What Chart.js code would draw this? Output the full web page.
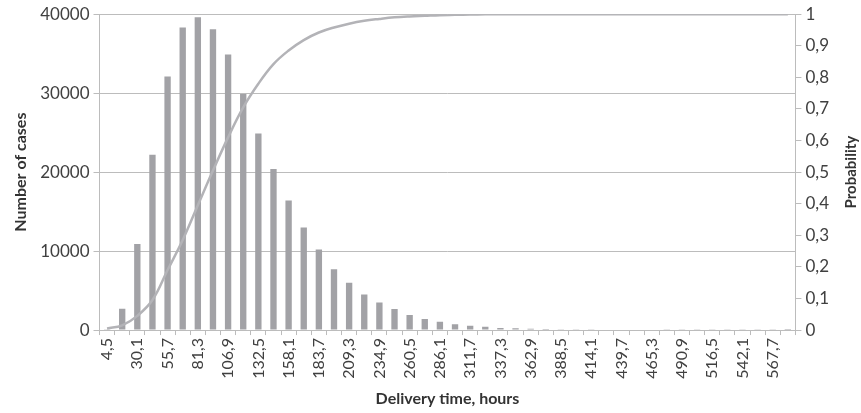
<!DOCTYPE html>
<html>
<head>
<meta charset="utf-8">
<script src="https://cdn.jsdelivr.net/npm/chart.js@4"></script>
<style>
  html, body { margin: 0; padding: 0; background: #fff; }
</style>
</head>
<body>
<canvas id="chart-1" width="861" height="413"></canvas>
<script>
const categories = ['4,5', '17,3', '30,1', '42,9', '55,7', '68,5', '81,3', '94,1', '106,9', '119,7',
  '132,5', '145,3', '158,1', '170,9', '183,7', '196,5', '209,3', '222,1', '234,9', '247,7',
  '260,5', '273,3', '286,1', '298,9', '311,7', '324,5', '337,3', '350,1', '362,9', '375,7',
  '388,5', '401,3', '414,1', '426,9', '439,7', '452,5', '465,3', '478,1', '490,9', '503,7',
  '516,5', '529,3', '542,1', '554,9', '567,7', '580,5'];

const cases = [100, 2700, 10900, 22200, 32100, 38300, 39600, 38100, 34900, 29900,
  24900, 20400, 16400, 13000, 10200, 7700, 6000, 4500, 3500, 2650,
  1900, 1400, 1050, 750, 550, 420, 250, 220, 180, 130,
  110, 100, 90, 80, 70, 60, 55, 50, 45, 40,
  35, 30, 28, 25, 22, 20];

const probability = [0.005, 0.015, 0.045, 0.095, 0.19, 0.285, 0.395, 0.505, 0.61, 0.705,
  0.78, 0.842, 0.885, 0.918, 0.942, 0.958, 0.97, 0.979, 0.985, 0.99,
  0.993, 0.995, 0.997, 0.998, 0.999, 0.9995, 1, 1, 1, 1,
  1, 1, 1, 1, 1, 1, 1, 1, 1, 1,
  1, 1, 1, 1, 1, 1];

const FONT = 'Lato, "Noto Sans", sans-serif';
const TEXT = '#404040';
const GRID = '#bcbcbc';

// right axis title reads bottom-to-top, Chart.js would rotate it the other way
const rightTitle = {
  id: 'rightTitle',
  afterDraw(chart) {
    const c = chart.ctx;
    const a = chart.chartArea;
    c.save();
    c.translate(chart.width - 10, (a.top + a.bottom) / 2);
    c.rotate(-Math.PI / 2);
    c.font = 'bold 15px ' + FONT;
    c.fillStyle = '#333';
    c.textAlign = 'center';
    c.textBaseline = 'middle';
    c.fillText('Probability', 0, 0);
    c.restore();
  }
};

const ctx1 = document.getElementById('chart-1');

new Chart(ctx1, {
  type: 'bar',
  data: {
    labels: categories,
    datasets: [{
      type: 'line',
      label: 'Probability',
      data: probability,
      yAxisID: 'y1',
      borderColor: '#b3b3b7',
      borderWidth: 2.5,
      pointRadius: 0,
      tension: 0.4,
      order: 0
    }, {
      label: 'Number of cases',
      data: cases,
      yAxisID: 'y',
      backgroundColor: '#a2a2a6',
      barPercentage: 0.42,
      categoryPercentage: 1,
      order: 1
    }]
  },
  options: {
    responsive: false,
    animation: false,
    layout: { padding: { top: 10, right: 0, left: 11, bottom: 5 } },
    plugins: {
      legend: { display: false },
      tooltip: { enabled: false }
    },
    scales: {
      x: {
        offset: true,
        grid: { offset: true, drawOnChartArea: false, drawTicks: true, tickLength: 5, color: GRID },
        border: { display: true, color: GRID },
        ticks: {
          autoSkip: false,
          minRotation: 90,
          maxRotation: 90,
          padding: 3,
          color: TEXT,
          font: { family: FONT, size: 16 },
          callback: function (v, i) { return i % 2 === 0 ? categories[i] : ''; }
        },
        title: {
          display: true,
          text: 'Delivery time, hours',
          color: '#333',
          padding: { top: 7, bottom: 0 },
          font: { family: FONT, size: 16, weight: 'bold' }
        }
      },
      y: {
        position: 'left',
        min: 0,
        max: 40000,
        grid: { color: GRID, tickLength: 6 },
        border: { display: true, color: GRID },
        ticks: {
          stepSize: 10000,
          padding: 4,
          color: TEXT,
          font: { family: FONT, size: 17 },
          callback: function (v) { return String(v); }
        },
        title: {
          display: true,
          text: 'Number of cases',
          color: '#333',
          padding: { top: 0, bottom: 6 },
          font: { family: FONT, size: 16, weight: 'bold' }
        }
      },
      y1: {
        position: 'right',
        min: 0,
        max: 1,
        grid: { drawOnChartArea: false, color: GRID, tickLength: 6 },
        border: { display: true, color: GRID },
        ticks: {
          stepSize: 0.1,
          padding: 4,
          color: TEXT,
          font: { family: FONT, size: 17 },
          callback: function (v) { return String(Math.round(v * 10) / 10).replace('.', ','); }
        },
        title: {
          display: true,
          text: 'Probability',
          color: 'rgba(0,0,0,0)',
          padding: { top: 6, bottom: 4 },
          font: { family: FONT, size: 15, weight: 'bold' }
        }
      }
    }
  },
  plugins: [rightTitle]
});
</script>
</body>
</html>
